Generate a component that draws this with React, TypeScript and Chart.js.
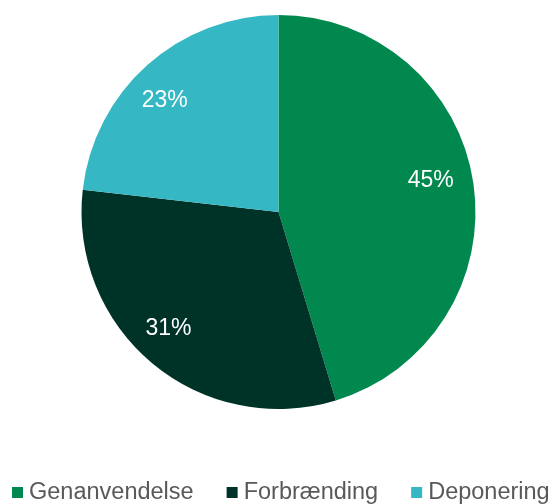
import React, { useEffect, useRef } from "react";
import { Chart, registerables } from "chart.js";

Chart.register(...registerables);

const categories = ["Genanvendelse", "Forbrænding", "Deponering"];
const values = [45.3, 31.5, 23.2];
const valueLabels = ["45%", "31%", "23%"];
const colors = ["#00884E", "#003328", "#35B8C4"];

const FONT = "Arial, 'Liberation Sans', sans-serif";

const sliceLabels = {
  id: "sliceLabels",
  afterDatasetsDraw(chart: any, _args: any, opts: any) {
    const ctx = chart.ctx;
    const meta = chart.getDatasetMeta(0);
    const angleShift: number[] = opts.angleShift || [];
    const radiusFrac: number[] = opts.radiusFrac || [];
    ctx.save();
    ctx.fillStyle = "#ffffff";
    ctx.font = `23px ${FONT}`;
    ctx.textAlign = "center";
    ctx.textBaseline = "middle";
    meta.data.forEach((arc: any, i: number) => {
      const { x, y, startAngle, endAngle, outerRadius } = arc.getProps(
        ["x", "y", "startAngle", "endAngle", "outerRadius"],
        true
      );
      const mid = (startAngle + endAngle) / 2 + ((angleShift[i] || 0) * Math.PI) / 180;
      const r = outerRadius * (radiusFrac[i] || 0.8);
      ctx.fillText(valueLabels[i], x + Math.cos(mid) * r, y + Math.sin(mid) * r + 1);
    });
    ctx.restore();
  },
};

const customLegend = {
  id: "customLegend",
  afterDraw(chart: any) {
    const ctx = chart.ctx;
    ctx.save();
    ctx.font = `23.5px ${FONT}`;
    ctx.textBaseline = "alphabetic";
    const box = 11;
    const gapBoxText = 6;
    const gapItems = 33;
    const widths = categories.map((c) => ctx.measureText(c).width);
    let x = 12;
    const boxTop = 487;
    const baseline = 499;
    categories.forEach((c, i) => {
      ctx.fillStyle = colors[i];
      ctx.fillRect(x, boxTop, box, box);
      ctx.fillStyle = "#595959";
      ctx.textAlign = "left";
      ctx.fillText(c, x + box + gapBoxText, baseline);
      x += box + gapBoxText + widths[i] + gapItems;
    });
    ctx.restore();
  },
};

export default function App() {
  const ref = useRef<HTMLCanvasElement | null>(null);
  useEffect(() => {
    document.body.style.margin = "0";
    const chart = new Chart(ref.current as HTMLCanvasElement, {
      type: "pie",
      data: {
        labels: categories,
        datasets: [
          {
            data: values,
            backgroundColor: colors,
            borderWidth: 0,
          },
        ],
      },
      options: {
        animation: false,
        responsive: false,
        layout: { padding: { top: 15, bottom: 95, left: 0, right: 0 } },
        plugins: {
          legend: { display: false },
          tooltip: { enabled: false },
          sliceLabels: {
            angleShift: [-3.5, 3.8, -3.7],
            radiusFrac: [0.79, 0.81, 0.81],
          },
        } as any,
      },
      plugins: [sliceLabels, customLegend],
    });
    return () => chart.destroy();
  }, []);
  return (
    <div style={{ width: 557, height: 504 }}>
      <canvas ref={ref} width={557} height={504} style={{ display: "block" }} />
    </div>
  );
}
